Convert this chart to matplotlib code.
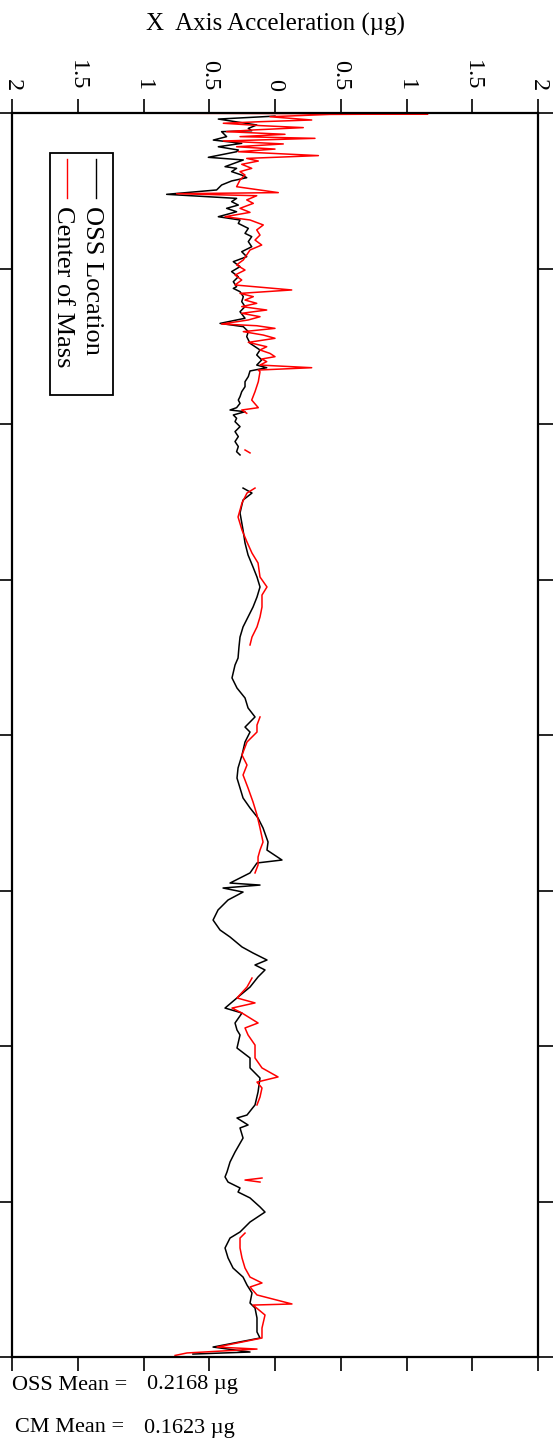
import numpy as np
import matplotlib
matplotlib.use("Agg")
import matplotlib.pyplot as plt
from matplotlib.patches import Rectangle
from matplotlib.ticker import FuncFormatter

plt.rcParams['font.family'] = ['Liberation Serif', 'DejaVu Serif']

nan = np.nan

# OSS location trace (time, acceleration in ug)
oss_t = [0.020, 0.039, 0.077, 0.099, 0.114, 0.120, 0.152, 0.174, 0.195, 0.217,
         0.238, 0.249, 0.285, 0.302, 0.345, 0.356, 0.377, 0.399, 0.416, 0.437,
         0.463, 0.495, 0.523, 0.549, 0.570, 0.592, 0.613, 0.635, 0.667, 0.688,
         0.710, 0.742, 0.774, 0.795, 0.827, 0.860, 0.892, 0.924, 0.956, 0.988,
         1.020, 1.053, 1.085, 1.117,
         1.128, 1.149, 1.181, 1.213, 1.245, 1.278, 1.320, 1.353, 1.374, 1.406,
         1.438, 1.481, 1.524, 1.556, 1.588, 1.621, 1.638, 1.659, 1.695, 1.728,
         1.760, 1.792, 1.824, 1.846, 1.867, 1.895, 1.910, 1.921, 1.942, 1.963,
         1.985, 2.017, 2.049, 2.081, 2.113, 2.145, 2.178, 2.199,
         2.300,
         2.412, 2.444, 2.489, 2.572, 2.682, 2.765, 2.842, 2.920, 2.984, 3.048,
         3.113, 3.177, 3.241, 3.305, 3.370, 3.434, 3.505, 3.550, 3.633, 3.698,
         3.762, 3.826, 3.884, 3.949, 3.981, 4.045, 4.129, 4.212, 4.277, 4.341,
         4.405, 4.469, 4.534, 4.598, 4.688, 4.740, 4.804, 4.823, 4.887, 4.952,
         4.965, 4.984, 5.010, 5.061, 5.125, 5.190, 5.254, 5.299, 5.363, 5.402,
         5.447, 5.479, 5.511, 5.556, 5.621, 5.685, 5.756, 5.788, 5.852, 5.897,
         5.929, 6.013, 6.077, 6.141, 6.206, 6.296, 6.379, 6.444, 6.463, 6.508,
         6.527, 6.592, 6.682, 6.746, 6.810, 6.842, 6.875, 6.913, 6.939, 6.977,
         7.035, 7.068, 7.132, 7.196, 7.235, 7.299, 7.363, 7.428, 7.486, 7.537,
         7.588, 7.653, 7.685, 7.749, 7.839, 7.878, 7.936, 7.968, 7.981]
oss_v = [0.0, 0.431, 0.139, 0.203, 0.177, 0.406, 0.368, 0.469, 0.253, 0.431,
         0.279, 0.292, 0.507, 0.241, 0.380, 0.292, 0.330, 0.253, 0.215, 0.330,
         0.406, 0.444, 0.824, 0.292, 0.330, 0.279, 0.368, 0.292, 0.431, 0.266,
         0.279, 0.203, 0.228, 0.177, 0.203, 0.177, 0.253, 0.215, 0.317, 0.266,
         0.330, 0.279, 0.317, 0.292,
         0.317, 0.266, 0.241, 0.253, 0.228, 0.266, 0.228, 0.418, 0.241, 0.203,
         0.215, 0.190, 0.114, 0.139, 0.101, 0.139, 0.063, 0.190, 0.203, 0.228,
         0.228, 0.253, 0.266, 0.279, 0.266, 0.292, 0.342, 0.228, 0.317, 0.292,
         0.304, 0.266, 0.304, 0.279, 0.304, 0.279, 0.292, 0.266,
         nan,
         0.243, 0.175, 0.243, 0.266, 0.243, 0.228, 0.205, 0.167, 0.137, 0.114,
         0.137, 0.167, 0.205, 0.243, 0.266, 0.274, 0.281, 0.304, 0.327, 0.289,
         0.228, 0.205, 0.152, 0.228, 0.19, 0.228, 0.251, 0.281, 0.289, 0.266,
         0.243, 0.19, 0.129, 0.091, 0.053, 0.061, -0.053, 0.137, 0.19, 0.342,
         0.114, 0.395, 0.243, 0.357, 0.433, 0.471, 0.418, 0.342, 0.251, 0.167,
         0.061, 0.152, 0.076, 0.129, 0.19, 0.281, 0.38, 0.251, 0.304, 0.289,
         0.266, 0.289, 0.19, 0.19, 0.114, 0.129, 0.152, 0.213, 0.289, 0.205,
         0.266, 0.243, 0.304, 0.342, 0.365, 0.38, 0.357, 0.266, 0.281, 0.19,
         0.114, 0.076, 0.19, 0.266, 0.342, 0.38, 0.357, 0.319, 0.243, 0.213,
         0.175, 0.19, 0.152, 0.137, 0.137, 0.114, 0.471, 0.19, 0.624]

# Center of mass trace
cm_t = [0.0, 0.006, 0.009, 0.024, 0.045, 0.056, 0.066, 0.081, 0.094, 0.109,
        0.120, 0.137, 0.152, 0.163, 0.180, 0.199, 0.217, 0.232, 0.249, 0.274,
        0.292, 0.309, 0.330, 0.356, 0.377, 0.399, 0.431, 0.474, 0.512, 0.519,
        0.532, 0.559, 0.581, 0.613, 0.639, 0.667, 0.688, 0.720, 0.752, 0.785,
        0.817, 0.849, 0.881, 0.913, 0.945, 0.977, 1.010, 1.042, 1.074, 1.106,
        1.138, 1.160, 1.181, 1.203, 1.224, 1.245, 1.267, 1.288, 1.310, 1.331,
        1.357, 1.368, 1.385, 1.406, 1.428, 1.449, 1.475, 1.503, 1.524, 1.546,
        1.567, 1.582, 1.599, 1.621, 1.638, 1.653, 1.664, 1.728, 1.792, 1.846,
        1.895, 1.910, 1.931, 2.000,
        2.167, 2.186, 2.300,
        2.412, 2.444, 2.508, 2.598, 2.682, 2.759, 2.830, 2.894, 2.984, 3.048,
        3.100, 3.177, 3.241, 3.305, 3.370, 3.421, 3.600,
        3.884, 3.936, 3.981, 4.045, 4.129, 4.193, 4.257, 4.341, 4.431, 4.514,
        4.598, 4.688, 4.740, 4.785, 4.836, 4.887, 5.200,
        5.563, 5.621, 5.691, 5.723, 5.756, 5.788, 5.852, 5.884, 5.929, 5.994,
        6.077, 6.141, 6.199, 6.232, 6.270, 6.328, 6.379, 6.600,
        6.849, 6.862, 6.875, 7.100,
        7.203, 7.235, 7.299, 7.363, 7.428, 7.486, 7.524, 7.550, 7.601, 7.659,
        7.666, 7.730, 7.814, 7.878, 7.936, 7.949, 7.974, 7.990]
cm_v = [1.506, -1.163, -0.418, 0.038, -0.279, 0.114, 0.393, 0.114, -0.215, 0.165,
        0.368, -0.076, 0.266, -0.304, 0.393, -0.063, 0.292, 0.0, 0.279, -0.330,
        0.215, 0.127, 0.253, 0.177, 0.266, 0.228, 0.266, 0.292, -0.025, 0.748,
        0.139, 0.215, 0.165, 0.266, 0.190, 0.380, 0.190, 0.089, 0.139, 0.114,
        0.152, 0.101, 0.190, 0.215, 0.241, 0.292, 0.228, 0.304, 0.253, 0.304,
        -0.127, 0.266, 0.165, 0.228, 0.139, 0.253, 0.063, 0.253, 0.114, 0.203,
        0.406, 0.139, 0.0, 0.241, 0.089, 0.0, 0.203, 0.063, 0.114, 0.038,
        0.0, 0.101, 0.063, 0.114, -0.279, 0.127, 0.114, 0.127, 0.152, 0.177,
        0.127, 0.253, 0.215, nan,
        0.228, 0.19, nan,
        0.152, 0.213, 0.251, 0.281, 0.251, 0.213, 0.175, 0.129, 0.114, 0.061,
        0.099, 0.099, 0.114, 0.137, 0.175, 0.19, nan,
        0.114, 0.137, 0.137, 0.213, 0.251, 0.213, 0.243, 0.205, 0.167, 0.137,
        0.114, 0.091, 0.114, 0.129, 0.129, 0.152, nan,
        0.175, 0.213, 0.289, 0.152, 0.327, 0.251, 0.129, 0.228, 0.205, 0.152,
        0.152, 0.099, -0.023, 0.137, 0.099, 0.114, 0.137, nan,
        0.099, 0.228, 0.114, nan,
        0.228, 0.266, 0.266, 0.251, 0.228, 0.19, 0.099, 0.19, 0.137, -0.129,
        0.167, 0.076, 0.099, 0.099, 0.441, 0.137, 0.669, 0.76]

accel_ticks = [2, 1.5, 1, 0.5, 0, -0.5, -1, -1.5, -2]
legend_labels = ["OSS Location", "Center of Mass"]
mean_labels = ["OSS Mean =", "CM Mean ="]
mean_values = ["0.2168 \u00b5g", "0.1623 \u00b5g"]

fig = plt.figure(figsize=(5.54, 14.52), dpi=100)
ax = fig.add_axes([12 / 554, 95 / 1452, 526 / 554, 1244 / 1452])

ax.plot(oss_v, oss_t, color='black', lw=1.1)
ax.plot(cm_v, cm_t, color='red', lw=1.1)

ax.set_xlim(2, -2)
ax.set_ylim(8, 0)
ax.set_xticks(accel_ticks)
ax.xaxis.set_major_formatter(FuncFormatter(lambda v, p: f"{abs(v):g}"))
ax.set_yticks(range(0, 9))
ax.tick_params(axis='x', top=True, bottom=True, labeltop=True, labelbottom=False,
               direction='out', length=10, width=1.2, labelsize=17.5, labelrotation=-90, pad=6)
ax.tick_params(axis='y', left=True, right=True, labelleft=False, labelright=False,
               direction='out', length=11, width=1.2)
for s in ax.spines.values():
    s.set_linewidth(1.6)

# legend drawn by hand, rotated like the rest of the page
tr = ax.transAxes
ax.add_patch(Rectangle((0.0722, 0.773), 0.120, 0.195, transform=tr, fill=False,
                       lw=1.3, ec='black', zorder=5))
ax.plot([0.160, 0.160], [0.963, 0.932], transform=tr, color='black', lw=1)
ax.plot([0.105, 0.105], [0.963, 0.932], transform=tr, color='red', lw=1)
ax.text(0.153, 0.925, legend_labels[0], transform=tr, rotation=-90,
        ha='center', va='top', fontsize=19)
ax.text(0.097, 0.925, legend_labels[1], transform=tr, rotation=-90,
        ha='center', va='top', fontsize=19)

fig.text(275 / 554, 1 - 24 / 1452, "X  Axis Acceleration (\u00b5g)",
         ha='center', va='center', fontsize=18)

fig.text(12 / 554, 1 - 1385 / 1452, mean_labels[0], ha='left', va='center', fontsize=16)
fig.text(147 / 554, 1 - 1385 / 1452, mean_values[0], ha='left', va='center', fontsize=16)
fig.text(15 / 554, 1 - 1428 / 1452, mean_labels[1], ha='left', va='center', fontsize=16)
fig.text(144 / 554, 1 - 1428 / 1452, mean_values[1], ha='left', va='center', fontsize=16)

fig.savefig("out.png", dpi=100)
